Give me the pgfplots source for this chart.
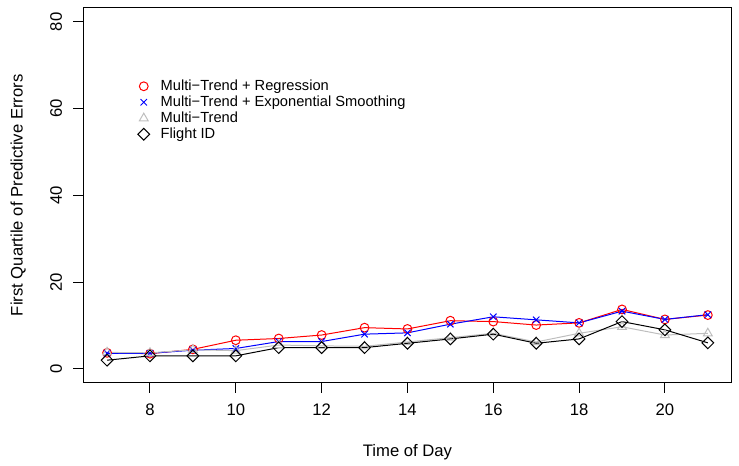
\documentclass[border=0pt]{standalone}
\usepackage{fontspec}
\setmainfont{Liberation Sans}
\usepackage{pgfplots}
\pgfplotsset{compat=1.18}

\definecolor{rgray}{HTML}{BEBEBE}

\pgfplotstableread{
x reg exp multi flight
7  3.7  3.6  3.8  2.0
8  3.5  3.6  3.7  3.0
9  4.5  4.3  4.4  3.0
10 6.6  4.7  4.2  3.0
11 7.0  6.3  5.5  4.9
12 7.8  6.3  5.3  4.9
13 9.5  8.0  5.2  4.9
14 9.2  8.3  6.2  5.9
15 11.1 10.3 7.2  6.9
16 10.9 12.0 8.2  8.0
17 10.1 11.3 6.2  5.9
18 10.6 10.6 8.2  6.9
19 13.7 13.3 9.7  10.9
20 11.4 11.4 7.8  9.0
21 12.4 12.5 8.2  6.0
}\qerr

\begin{document}
\begin{tikzpicture}
\begin{axis}[
    scale only axis,
    width=486.75pt, height=281.25pt,
    xmin=6.44, xmax=21.56,
    ymin=-3.2, ymax=83.2,
    xtick={8,10,...,20},
    ytick={0,20,...,80},
    tick align=outside,
    xtick pos=left, ytick pos=left,
    major tick length=7.5pt,
    tick style={black, line width=0.75pt},
    axis line style={black, line width=0.75pt},
    font=\fontsize{12.5}{15}\selectfont,
    /pgf/number format/assume math mode=true,
    xticklabel shift=4.8pt,
    yticklabel shift=4.8pt,
    yticklabel style={rotate=90, anchor=south},
    xlabel={Time of Day},
    ylabel={First Quartile of Predictive Errors},
    xlabel style={at={(axis description cs:0.5,-0.184)}, anchor=center},
    ylabel style={at={(axis description cs:-0.100,0.5)}, anchor=center, rotate=0},
    clip=false,
    legend style={draw=none, fill=none,
        font=\fontsize{11}{13}\selectfont,
        at={(axis description cs:0.078,0.82)}, anchor=north west,
        nodes={inner sep=0.5pt, text height=8.5pt, text depth=2.5pt},
        row sep=0pt},
    legend cell align=left,
    legend image code/.code={%
        \path[draw=none, fill=none] (0cm,0cm) -- (0.58cm,0cm);
        \draw[#1] plot coordinates {(0.15cm,0cm)};},
]
\addplot[red, line width=0.75pt, mark=o, mark size=3.3pt] table[x=x, y=reg] {\qerr};
\addlegendentry{Multi−Trend + Regression}
\addplot[blue, line width=0.75pt, mark=x, mark size=3.4pt] table[x=x, y=exp] {\qerr};
\addlegendentry{Multi−Trend + Exponential Smoothing}
\addplot[rgray, line width=0.75pt, mark=triangle, mark size=3.8pt] table[x=x, y=multi] {\qerr};
\addlegendentry{Multi−Trend}
\addplot[black, line width=0.75pt, mark=square, mark size=3.1pt, mark options={rotate=45}] table[x=x, y=flight] {\qerr};
\addlegendentry{Flight ID}
\path (axis description cs:-0.128,-0.221) rectangle (axis description cs:1.011,1.021);
\end{axis}
\end{tikzpicture}
\end{document}
